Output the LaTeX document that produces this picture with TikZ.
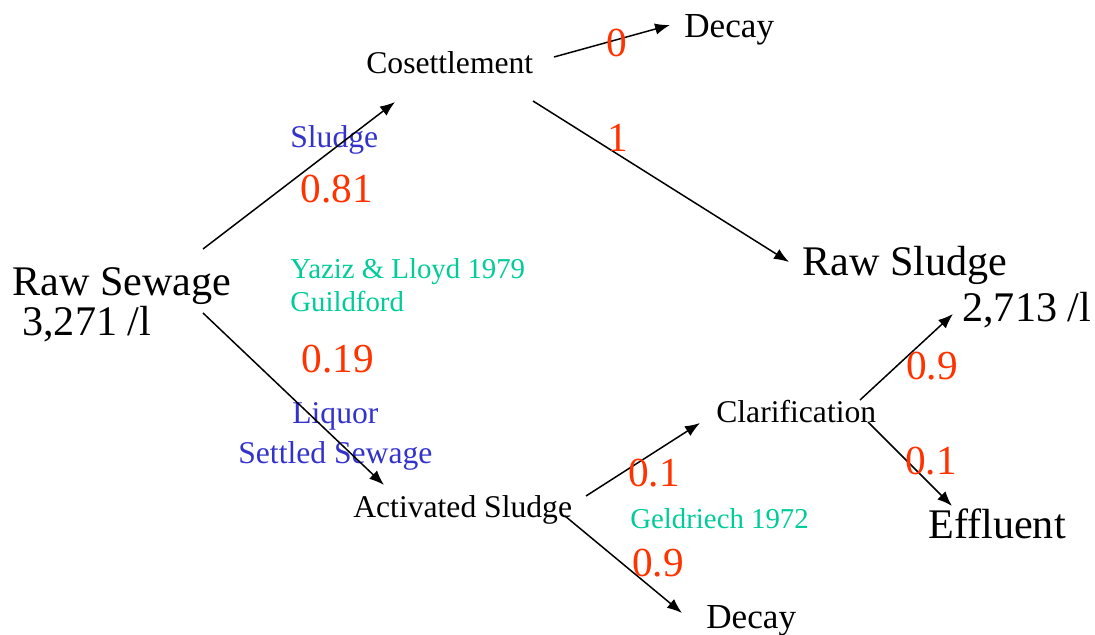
\documentclass[tikz,border=0pt]{standalone}
\usepackage{fontspec}
\setmainfont{Liberation Serif}
\usepackage{xcolor}
\usepackage{tikz}
\usetikzlibrary{arrows.meta,positioning}
\definecolor{probred}{HTML}{FF3300}
\definecolor{streamblue}{HTML}{3333CC}
\definecolor{refgreen}{HTML}{00CC99}
\tikzset{
  stage/.style={inner sep=0pt,anchor=base west,font=\fontsize{18}{21}\selectfont},
  endpoint/.style={inner sep=0pt,anchor=base west,font=\fontsize{24}{28}\selectfont},
  decaybox/.style={inner sep=0pt,anchor=base west,font=\fontsize{20}{24}\selectfont},
  prob/.style={inner sep=0pt,anchor=base,text=probred,font=\fontsize{23.5}{27}\selectfont},
  stream/.style={inner sep=0pt,anchor=base west,text=streamblue,font=\fontsize{18}{21}\selectfont},
  source/.style={inner sep=0pt,anchor=base west,text=refgreen,font=\fontsize{16.4}{19}\selectfont},
  flowarrow/.style={-{Latex[length=8.5pt,width=6.5pt]},line width=0.85pt,draw=black}
}

\begin{document}
\begin{tikzpicture}[x=0.02cm,y=-0.02cm]
\useasboundingbox (0,0) rectangle (1095,635);
% stages
\node[endpoint] (raw) at (12,295) {Raw Sewage};
\node[endpoint] (rawcount) at (22,335) {3,271 /l};
\node[stage] (coset) at (366,74) {Cosettlement};
\node[decaybox] (decayA) at (684,38) {Decay};
\node[endpoint] (rawsludge) at (802,275) {Raw Sludge};
\node[endpoint] (sludgecount) at (962,321) {2,713 /l};
\node[stage] (activ) at (353,517) {Activated Sludge};
\node[stage] (clarif) at (716,422) {Clarification};
\node[endpoint] (effluent) at (928,538) {Effluent};
\node[decaybox] (decayB) at (706,628) {Decay};
% streams and sources
\node[stream] (sludge) at (290,148) {Sludge};
\node[stream] (liquor) at (292,423) {Liquor};
\node[stream] (settled) at (238,463) {Settled Sewage};
\node[source] (yaziz) at (290,278) {Yaziz \& Lloyd 1979};
\node[source] (guild) at (290,311) {Guildford};
\node[source] (geld) at (630,528) {Geldriech 1972};
% flows
\draw[flowarrow] ([shift={(191,-46)}]raw.base west) -- ([shift={(29,28)}]coset.base west);
\draw[flowarrow] ([shift={(191,18)}]raw.base west) -- ([shift={(31,-32)}]activ.base west);
\draw[flowarrow] ([shift={(188,-17)}]coset.base west) -- ([shift={(-14,-13)}]decayA.base west);
\draw[flowarrow] ([shift={(167,27)}]coset.base west) -- ([shift={(-13,-13)}]rawsludge.base west);
\draw[flowarrow] ([shift={(233,-21)}]activ.base west) -- ([shift={(-16,1)}]clarif.base west);
\draw[flowarrow] ([shift={(212,-1)}]activ.base west) -- ([shift={(-24,-15)}]decayB.base west);
\draw[flowarrow] ([shift={(144,-22)}]clarif.base west) -- ([shift={(-9,-7)}]sludgecount.base west);
\draw[flowarrow] ([shift={(152,0)}]clarif.base west) -- ([shift={(24,-32)}]effluent.base west);
% fractions
\node[prob] (pzero) at (617,57) {0};
\node[prob] (pone) at (618,152) {1};
\node[prob] (psludge) at (337,202) {0.81};
\node[prob] (pliquor) at (338,372) {0.19};
\node[prob] (pclar) at (654,486) {0.1};
\node[prob] (pdecay) at (658,576) {0.9};
\node[prob] (pout) at (932,379) {0.9};
\node[prob] (peff) at (931,474) {0.1};
\end{tikzpicture}
\end{document}
